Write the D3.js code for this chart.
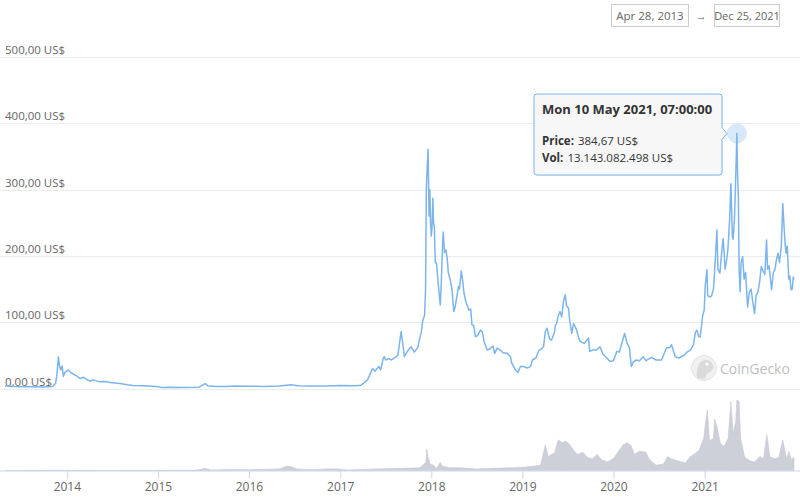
<!DOCTYPE html>
<html><head><meta charset="utf-8">
<script src="https://cdn.jsdelivr.net/npm/d3@7/dist/d3.min.js"></script>
<style>
html,body{margin:0;padding:0;background:#fff;}
svg{display:block;font-family:"Open Sans","Noto Sans",sans-serif;}
</style></head>
<body>
<svg id="chart" width="800" height="501"></svg>
<script>
// ---- data ----
const priceDates = ["2013-04-28","2013-06-01","2013-08-01","2013-10-01","2013-11-05","2013-11-17","2013-11-22","2013-11-28","2013-12-02","2013-12-07","2013-12-13","2013-12-18","2013-12-24","2014-01-07","2014-01-20","2014-02-05","2014-02-23","2014-03-10","2014-03-20","2014-04-04","2014-04-15","2014-05-14","2014-06-05","2014-06-23","2014-08-01","2014-09-01","2014-09-24","2014-11-01","2014-12-01","2015-01-01","2015-01-15","2015-02-15","2015-04-01","2015-06-15","2015-07-10","2015-07-20","2015-08-20","2015-10-01","2015-11-05","2016-01-01","2016-03-01","2016-05-01","2016-06-18","2016-07-15","2016-09-01","2016-11-01","2017-01-01","2017-03-01","2017-03-25","2017-04-05","2017-04-20","2017-05-05","2017-05-10","2017-05-20","2017-05-28","2017-06-05","2017-06-12","2017-06-22","2017-06-26","2017-07-02","2017-07-15","2017-07-25","2017-08-10","2017-08-20","2017-09-02","2017-09-08","2017-09-15","2017-09-25","2017-10-12","2017-10-25","2017-11-08","2017-11-14","2017-11-22","2017-11-28","2017-12-05","2017-12-09","2017-12-12","2017-12-14","2017-12-19","2017-12-21","2017-12-23","2017-12-26","2017-12-29","2018-01-01","2018-01-04","2018-01-07","2018-01-10","2018-01-13","2018-01-17","2018-01-22","2018-01-26","2018-02-01","2018-02-06","2018-02-10","2018-02-15","2018-02-18","2018-02-23","2018-03-01","2018-03-06","2018-03-10","2018-03-18","2018-03-25","2018-04-01","2018-04-06","2018-04-14","2018-04-20","2018-04-24","2018-05-01","2018-05-06","2018-05-12","2018-05-20","2018-06-01","2018-06-08","2018-06-13","2018-06-20","2018-06-27","2018-07-06","2018-07-17","2018-07-25","2018-08-01","2018-08-13","2018-08-25","2018-09-05","2018-09-12","2018-09-22","2018-10-05","2018-10-15","2018-11-01","2018-11-14","2018-11-20","2018-12-04","2018-12-14","2018-12-24","2019-01-07","2019-01-20","2019-02-03","2019-02-10","2019-02-24","2019-03-08","2019-03-20","2019-03-27","2019-04-03","2019-04-10","2019-04-20","2019-04-28","2019-05-10","2019-05-13","2019-05-18","2019-05-25","2019-06-01","2019-06-08","2019-06-15","2019-06-22","2019-06-27","2019-07-05","2019-07-10","2019-07-18","2019-07-25","2019-08-05","2019-08-15","2019-08-21","2019-09-05","2019-09-15","2019-09-23","2019-09-28","2019-10-10","2019-10-26","2019-11-08","2019-11-20","2019-12-05","2019-12-18","2020-01-01","2020-01-15","2020-01-25","2020-02-05","2020-02-15","2020-02-25","2020-03-05","2020-03-13","2020-03-20","2020-04-02","2020-04-15","2020-04-29","2020-05-10","2020-06-02","2020-06-20","2020-07-12","2020-07-25","2020-08-01","2020-08-15","2020-08-21","2020-09-05","2020-09-20","2020-10-10","2020-10-22","2020-11-05","2020-11-17","2020-11-25","2020-12-01","2020-12-08","2020-12-14","2020-12-24","2020-12-30","2021-01-03","2021-01-10","2021-01-13","2021-01-23","2021-01-29","2021-02-05","2021-02-10","2021-02-19","2021-02-23","2021-03-03","2021-03-10","2021-03-16","2021-03-24","2021-03-30","2021-04-04","2021-04-11","2021-04-16","2021-04-22","2021-04-25","2021-04-30","2021-05-04","2021-05-10","2021-05-13","2021-05-16","2021-05-19","2021-05-23","2021-05-27","2021-06-02","2021-06-08","2021-06-14","2021-06-22","2021-06-29","2021-07-06","2021-07-13","2021-07-20","2021-07-26","2021-08-02","2021-08-09","2021-08-16","2021-08-22","2021-08-30","2021-09-06","2021-09-10","2021-09-16","2021-09-26","2021-10-03","2021-10-10","2021-10-16","2021-10-22","2021-10-28","2021-11-04","2021-11-10","2021-11-15","2021-11-19","2021-11-23","2021-11-28","2021-12-04","2021-12-08","2021-12-13","2021-12-18","2021-12-22","2021-12-25"];
const priceValues = [4.3,3.0,2.8,2.4,3.0,8,20,48,35,28,34,18,24,28,23,20,15,17,14,11,13,10,10.5,9,7.5,5.5,4.5,4,3.6,2.8,1.4,1.8,1.6,2.0,7.5,4,3,3,3.8,3.5,3.2,3.8,5.8,4.3,3.8,3.8,4.4,4.0,5,8,13,25,30,26,30,33,28,45,48,43,45,43,47,50,86,70,48,55,63,55,62,73,85,103,110,150,300,320,361,310,260,300,250,230,245,287,250,244,190,189,170,145,126,160,215,236,205,209,195,175,164,150,116,122,140,154,150,177,165,144,130,118,120,96,95,78,80,88,85,70,58,60,64,53,61,58,54,53,48,38,28,24,33,33,31,33,43,46,57,60,63,86,91,75,73,85,95,98,110,116,108,132,141,125,121,102,83,98,90,76,71,68,72,76,56,58,58,63,52,46,41,42,56,55,70,83,68,62,33,40,43,42,48,42,47,43,43,55,61,62,66,48,46,50,55,58,66,85,88,78,78,110,118,155,179,140,138,140,150,178,239,180,174,205,226,180,194,210,255,309,230,225,254,300,384.67,320,290,180,146,190,199,165,175,123,145,150,130,113,140,145,160,184,178,172,224,180,185,149,175,180,195,204,190,215,279,245,220,204,215,165,170,149,150,168,164];

const volumeDates = ["2013-04-28","2013-11-28","2014-06-01","2015-06-01","2015-07-10","2015-08-01","2015-11-01","2016-01-01","2016-05-01","2016-06-01","2016-06-20","2016-07-10","2016-09-01","2016-11-15","2016-12-20","2017-02-01","2017-05-01","2017-06-01","2017-09-01","2017-11-15","2017-12-10","2017-12-14","2017-12-19","2017-12-28","2018-01-10","2018-01-22","2018-02-06","2018-02-15","2018-03-15","2018-05-01","2018-07-01","2018-09-01","2018-11-20","2019-01-01","2019-02-15","2019-03-15","2019-04-03","2019-04-15","2019-05-10","2019-05-25","2019-06-10","2019-06-25","2019-07-10","2019-07-25","2019-08-10","2019-09-01","2019-09-20","2019-10-10","2019-10-28","2019-11-15","2019-12-10","2020-01-05","2020-01-20","2020-02-10","2020-02-25","2020-03-12","2020-03-25","2020-04-15","2020-05-10","2020-05-25","2020-06-20","2020-07-20","2020-08-05","2020-08-20","2020-09-15","2020-10-15","2020-11-05","2020-11-25","2020-12-10","2020-12-28","2021-01-06","2021-01-12","2021-01-20","2021-02-05","2021-02-10","2021-02-20","2021-03-05","2021-03-20","2021-04-05","2021-04-16","2021-04-25","2021-05-05","2021-05-10","2021-05-19","2021-05-25","2021-06-10","2021-07-01","2021-07-20","2021-08-10","2021-08-25","2021-09-07","2021-09-20","2021-10-10","2021-10-25","2021-11-10","2021-11-25","2021-12-05","2021-12-15","2021-12-25"];
const volumeValues = [0,0.05,0.02,0.05,0.4,0.1,0.2,0.15,0.3,0.8,0.7,0.3,0.15,0.3,0.3,0.1,0.25,0.3,0.4,0.5,1.5,4.0,2.5,1.2,1.0,0.4,1.5,0.8,0.5,0.5,0.3,0.4,0.5,0.6,0.8,1.0,4.8,2.6,3.3,5.7,5.2,5.5,4.8,3.8,3.0,3.4,2.4,2.2,3.0,2.0,1.6,2.4,3.5,4.8,5.2,4.6,3.0,3.6,3.4,2.0,1.0,1.2,2.6,2.2,1.8,1.4,2.6,3.2,3.8,6.0,9.5,11.3,5.5,6.0,9.6,8.0,5.0,4.5,6.0,12.8,7.0,9.0,13.14,12.8,6.0,2.5,1.8,1.6,2.6,2.2,6.7,2.5,2.2,2.4,5.7,2.2,3.5,2.0,2.5];

const priceTicks = [0,100,200,300,400,500];
const yearTicks = ["2014","2015","2016","2017","2018","2019","2020","2021"];
const dateRange = ["Apr 28, 2013","Dec 25, 2021"];
const tooltipInfo = {date:"2021-05-10", title:"Mon 10 May 2021, 07:00:00", price:"384,67 US$", vol:"13.143.082.498 US$"};

// ---- build ----
const parse = d3.timeParse("%Y-%m-%d");
const price = priceDates.map((d,i)=>({date:parse(d), v:priceValues[i]}));
const volume = volumeDates.map((d,i)=>({date:parse(d), v:volumeValues[i]}));

const svg = d3.select("#chart");
const x = d3.scaleTime().domain([parse("2013-04-28"), parse("2021-12-25")]).range([5, 794]);
const y = d3.scaleLinear().domain([0,500]).range([388.5, 57]);
const yv = d3.scaleLinear().domain([0,13.5]).range([470.5, 398]);

const fmt = v => d3.format(",.2f")(v).replace(/,/g,"#").replace(".",",").replace(/#/g,".") + " US$";

// gridlines + labels
const grid = svg.append("g");
priceTicks.forEach(t=>{
  grid.append("line").attr("x1",0).attr("x2",800).attr("y1",Math.round(y(t))+0.5).attr("y2",Math.round(y(t))+0.5)
    .attr("stroke","#ececec").attr("stroke-width",1);
});

// volume area
svg.append("path").datum(volume)
  .attr("d", d3.area().x(d=>x(d.date)).y0(yv(0)).y1(d=>yv(d.v)).curve(d3.curveLinear))
  .attr("fill","#cdd0d9").attr("stroke","#c6c9d2").attr("stroke-width",0.6);

// x axis
const xAxis = d3.axisBottom(x).tickValues(yearTicks.map(t=>parse(t+"-01-01"))).tickFormat(d3.timeFormat("%Y")).tickSize(8).tickPadding(4);
const gx = svg.append("g").attr("transform",`translate(0,${yv(0)})`).call(xAxis);
gx.select(".domain").attr("stroke","#ccd6eb").attr("d","M0,0.5H800");
gx.selectAll(".tick line").attr("stroke","#ccd6eb");
gx.selectAll(".tick text").attr("fill","#666").attr("font-size","12px").attr("font-family","Open Sans, sans-serif");

// y labels
priceTicks.forEach(t=>{
  grid.append("text").attr("x",5).attr("y",y(t)-3).text(fmt(t))
    .attr("fill","#666").attr("font-size","11.5px");
});

// watermark
const wm = svg.append("g").attr("opacity",0.55);
wm.append("circle").attr("cx",704).attr("cy",368).attr("r",12.5).attr("fill","#e4e4e4").attr("stroke","#cfcfcf");
wm.append("path").attr("d","M697,378 C696,368 699,360 706,360 C711,360 714,364 713,368 C712,372 708,372 706,375 L705,379 Z").attr("fill","#bdbdbd");
wm.append("circle").attr("cx",707).attr("cy",364).attr("r",1.6).attr("fill","#fff");
wm.append("text").attr("x",720).attr("y",373.5).text("CoinGecko").attr("fill","#8c8c8c").attr("font-size","14px");

// price line
svg.append("path").datum(price)
  .attr("d", d3.line().x(d=>x(d.date)).y(d=>y(d.v)))
  .attr("fill","none").attr("stroke","#7cb5ec").attr("stroke-width",1.5).attr("stroke-linejoin","round");

// hover marker
const hp = price.find(d=>+d.date===+parse(tooltipInfo.date));
svg.append("circle").attr("cx",x(hp.date)).attr("cy",y(hp.v)).attr("r",10).attr("fill","#7cb5ec").attr("opacity",0.3);

// tooltip
const tx = 534, ty = 94, tw = 188, th = 81;
const ax = x(hp.date)-10, ay = y(hp.v);
const tipPath = `M${tx+3},${ty} H${tx+tw-3} Q${tx+tw},${ty} ${tx+tw},${ty+3} V${ay-6} L${ax},${ay} L${tx+tw},${ay+6} V${ty+th-3} Q${tx+tw},${ty+th} ${tx+tw-3},${ty+th} H${tx+3} Q${tx},${ty+th} ${tx},${ty+th-3} V${ty+3} Q${tx},${ty} ${tx+3},${ty} Z`;
const tip = svg.append("g");
tip.append("path").attr("d",tipPath).attr("fill","#000").attr("opacity",0.06).attr("transform","translate(1,1)");
tip.append("path").attr("d",tipPath).attr("fill","#f7f7f7").attr("fill-opacity",0.95).attr("stroke","#7cb5ec").attr("stroke-width",1);
tip.append("text").attr("x",542).attr("y",114).text(tooltipInfo.title)
  .attr("font-weight","bold").attr("font-size","13px").attr("fill","#333");
function labelPair(lbl, val, yy){
  const b = tip.append("text").attr("x",542).attr("y",yy).attr("font-size","11.5px").attr("font-weight","bold").attr("fill","#333").text(lbl);
  const w = b.node().getComputedTextLength();
  tip.append("text").attr("x",542+w+4).attr("y",yy).attr("font-size","11.5px").attr("fill","#333").text(val);
}
labelPair("Price:", tooltipInfo.price, 145);
labelPair("Vol:", tooltipInfo.vol, 162);

// date range boxes
const rg = svg.append("g");
rg.append("rect").attr("x",611.5).attr("y",4.5).attr("width",77).attr("height",22).attr("fill","#fff").attr("stroke","#cccccc");
rg.append("text").attr("x",650).attr("y",20).attr("text-anchor","middle").text(dateRange[0]).attr("fill","#666").attr("font-size","11.5px");
rg.append("text").attr("x",701).attr("y",19.5).attr("text-anchor","middle").text("→").attr("fill","#666").attr("font-size","11px");
rg.append("rect").attr("x",714.5).attr("y",4.5).attr("width",65).attr("height",22).attr("fill","#fff").attr("stroke","#cccccc");
rg.append("text").attr("x",747).attr("y",20).attr("text-anchor","middle").text(dateRange[1]).attr("fill","#666").attr("font-size","11px");
</script>
</body></html>
